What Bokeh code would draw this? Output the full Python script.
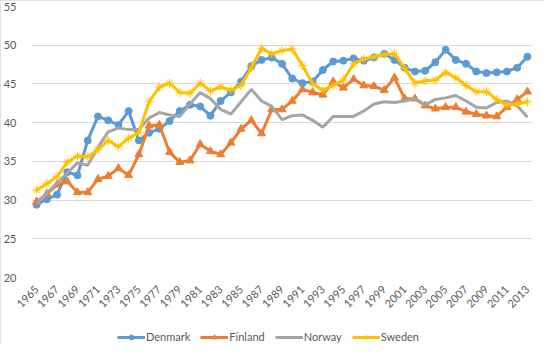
from math import pi
from bokeh.plotting import figure
from bokeh.layouts import column
from bokeh.models import FixedTicker, Legend, LegendItem, Range1d, InlineStyleSheet
from bokeh.embed import file_html
from bokeh.resources import INLINE

years = list(range(1965, 2014))

denmark = [29.4, 30.1, 30.7, 33.6, 33.2, 37.7, 40.8, 40.3, 39.7, 41.5,
           37.7, 38.7, 39.2, 40.2, 41.5, 42.3, 42.1, 40.9, 42.8, 43.9,
           45.3, 47.3, 48.1, 48.4, 47.6, 45.7, 45.1, 45.3, 46.8, 47.9,
           48.0, 48.3, 48.0, 48.4, 48.9, 48.1, 47.1, 46.6, 46.7, 47.8,
           49.4, 48.1, 47.6, 46.6, 46.4, 46.5, 46.6, 47.1, 48.5]

finland = [29.8, 30.8, 32.0, 32.4, 31.0, 31.0, 32.7, 33.1, 34.1, 33.2,
           35.9, 39.6, 39.7, 36.2, 34.9, 35.1, 37.2, 36.3, 35.9, 37.4,
           39.2, 40.3, 38.6, 41.7, 41.7, 42.8, 44.3, 43.9, 43.6, 45.3,
           44.5, 45.6, 44.8, 44.7, 44.2, 45.8, 43.1, 43.1, 42.2, 41.8,
           42.0, 42.0, 41.4, 41.1, 40.9, 40.8, 42.0, 43.0, 44.0]

norway = [29.5, 30.9, 32.2, 33.5, 34.8, 34.5, 36.8, 38.8, 39.3, 39.1,
          39.1, 40.6, 41.3, 41.0, 40.8, 42.4, 43.9, 43.1, 41.7, 41.1,
          42.7, 44.3, 42.8, 42.1, 40.4, 40.9, 41.0, 40.3, 39.4, 40.8,
          40.8, 40.8, 41.5, 42.4, 42.7, 42.6, 42.8, 43.1, 42.3, 43.0,
          43.2, 43.5, 42.8, 42.0, 41.9, 42.6, 42.8, 42.2, 40.7]

sweden = [31.3, 32.1, 33.0, 34.9, 35.7, 35.6, 36.5, 37.7, 36.9, 38.0,
          38.7, 42.7, 44.6, 45.1, 43.9, 43.8, 45.1, 44.1, 44.6, 44.2,
          44.8, 47.1, 49.6, 48.9, 49.3, 49.5, 47.4, 45.0, 44.2, 44.8,
          45.5, 47.6, 48.2, 48.5, 48.8, 48.9, 47.0, 45.1, 45.4, 45.5,
          46.5, 45.8, 44.8, 44.0, 44.0, 43.0, 42.3, 42.4, 42.7]

countries = ["Denmark", "Finland", "Norway", "Sweden"]
y_ticks = [20, 25, 30, 35, 40, 45, 50, 55]
x_ticks = list(range(1965, 2014, 2))

FONT = "Lato"
TXT = "#595959"
c_dk, c_fi, c_no, c_se = "#5B9BD5", "#ED7D31", "#A5A5A5", "#FFC000"
lw = 3

# ---- main chart ----
p = figure(width=544, height=322, output_backend="svg", toolbar_location=None,
           x_range=Range1d(1964.5, 2013.5), y_range=Range1d(20, 55),
           min_border_left=23, min_border_right=12, min_border_top=6,
           min_border_bottom=45)
p.outline_line_color = None

p.yaxis.ticker = FixedTicker(ticks=y_ticks)
p.xaxis.ticker = FixedTicker(ticks=x_ticks)
p.xgrid.grid_line_color = None
p.ygrid.grid_line_color = "#d9d9d9"
p.ygrid.grid_line_width = 1
for ax in (p.xaxis, p.yaxis):
    ax.axis_line_color = None
    ax.major_tick_line_color = None
    ax.minor_tick_line_color = None
    ax.major_label_text_font = FONT
    ax.major_label_text_font_size = "11px"
    ax.major_label_text_color = TXT
p.yaxis.major_label_standoff = 9
p.xaxis.major_label_standoff = 4
p.xaxis.major_label_orientation = pi / 4

p.line(years, denmark, line_color=c_dk, line_width=lw)
p.scatter(years, denmark, marker="circle", size=7, fill_color=c_dk, line_color=c_dk)
p.line(years, finland, line_color=c_fi, line_width=lw)
p.scatter(years, finland, marker="triangle", size=8, fill_color=c_fi, line_color=c_fi)
p.line(years, norway, line_color=c_no, line_width=lw)
p.line(years, sweden, line_color=c_se, line_width=lw)
p.scatter(years, sweden, marker="asterisk", size=9, line_color=c_se, line_width=1)

# ---- legend strip (its renderers lie outside its own view; only the legend shows) ----
lg = figure(width=544, height=22, output_backend="svg", toolbar_location=None,
            x_range=Range1d(0, 1), y_range=Range1d(0, 1),
            x_axis_type=None, y_axis_type=None, min_border=0)
lg.outline_line_color = None
lg.grid.visible = False

x0 = years[:1]
ld = lg.line(x0, denmark[:1], line_color=c_dk, line_width=lw)
md = lg.scatter(x0, denmark[:1], marker="circle", size=7, fill_color=c_dk, line_color=c_dk)
lf = lg.line(x0, finland[:1], line_color=c_fi, line_width=lw)
mf = lg.scatter(x0, finland[:1], marker="triangle", size=8, fill_color=c_fi, line_color=c_fi)
ln = lg.line(x0, norway[:1], line_color=c_no, line_width=lw)
ls = lg.line(x0, sweden[:1], line_color=c_se, line_width=lw)
ms = lg.scatter(x0, sweden[:1], marker="asterisk", size=9, line_color=c_se, line_width=1)

legend = Legend(items=[
    LegendItem(label=countries[0], renderers=[ld, md]),
    LegendItem(label=countries[1], renderers=[lf, mf]),
    LegendItem(label=countries[2], renderers=[ln]),
    LegendItem(label=countries[3], renderers=[ls, ms]),
], orientation="horizontal", location=(86, 1))
legend.border_line_color = None
legend.background_fill_alpha = 0
legend.label_text_font = FONT
legend.label_text_font_size = "11px"
legend.label_text_color = TXT
legend.glyph_width = 28
legend.glyph_height = 12
legend.label_standoff = 1
legend.spacing = 10
legend.padding = 2
legend.margin = 0
lg.add_layout(legend)

layout = column(p, lg, spacing=0)
layout.stylesheets = [InlineStyleSheet(css=":host { outline: 1px solid #d9d9d9; outline-offset: -1px; }")]

open("out.html", "w").write(file_html(layout, INLINE))
